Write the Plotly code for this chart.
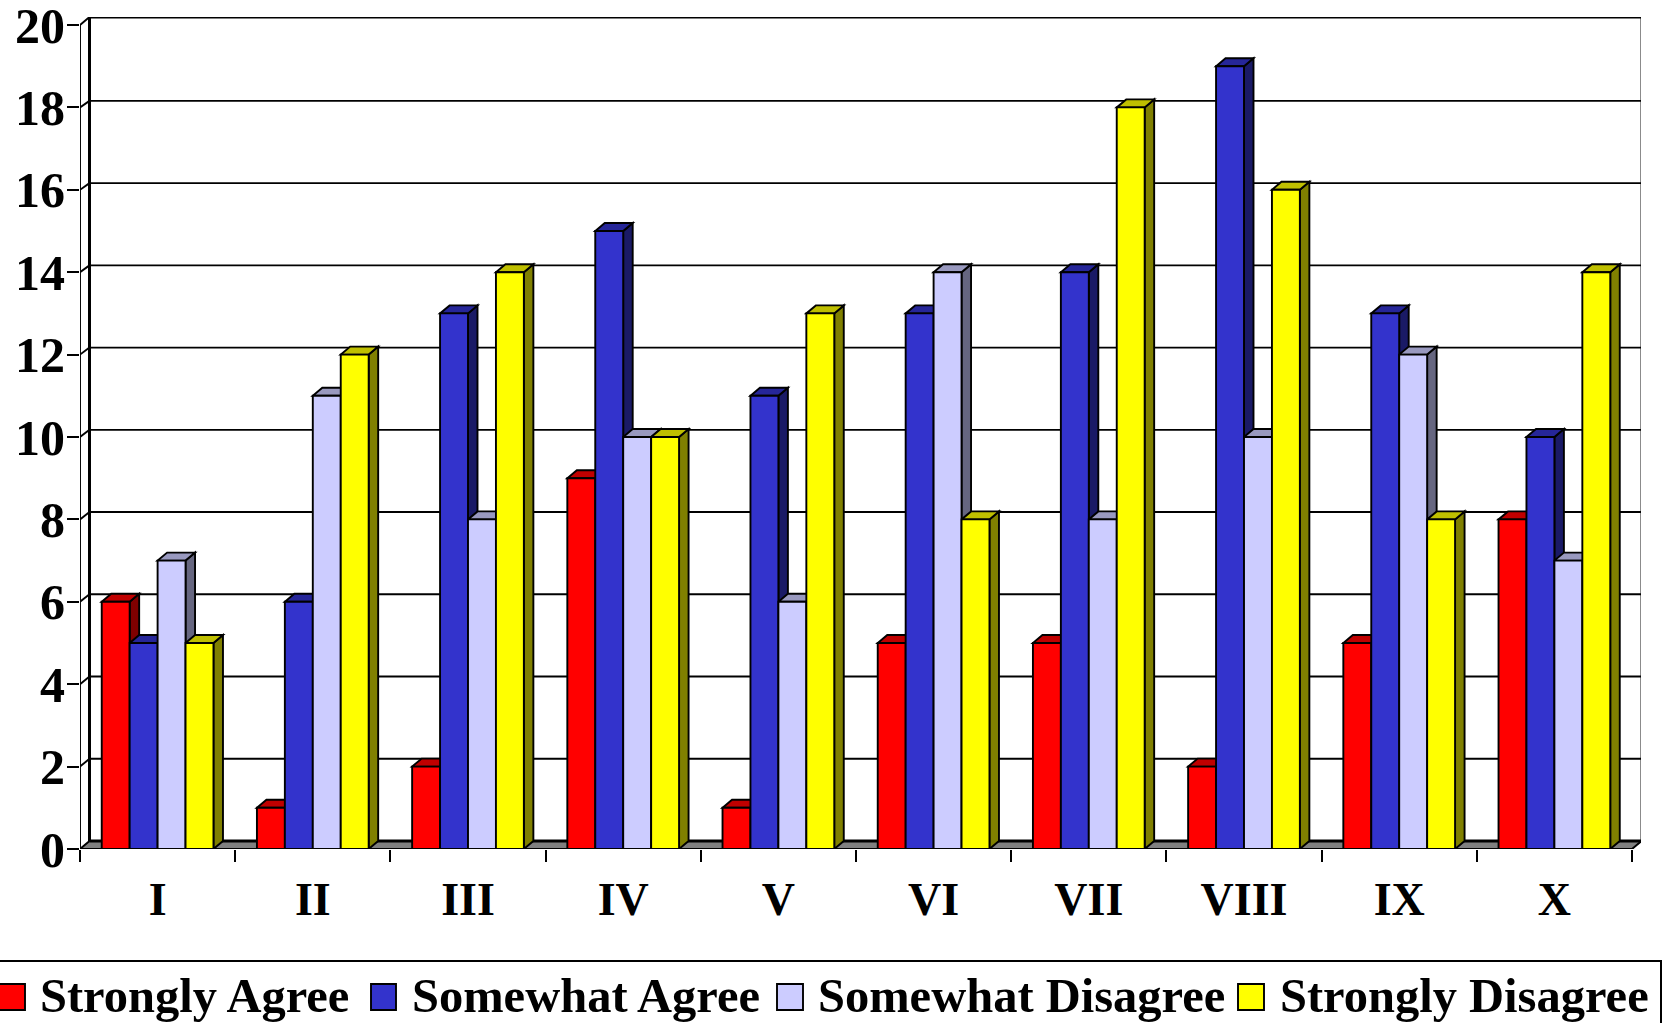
import plotly.graph_objects as go

categories = ["I", "II", "III", "IV", "V", "VI", "VII", "VIII", "IX", "X"]
strongly_agree = [6, 1, 2, 9, 1, 5, 5, 2, 5, 8]
somewhat_agree = [5, 6, 13, 15, 11, 13, 14, 19, 13, 10]
somewhat_disagree = [7, 11, 8, 10, 6, 14, 8, 10, 12, 7]
strongly_disagree = [5, 12, 14, 10, 13, 8, 18, 16, 8, 14]

series = [
    ("Strongly Agree", strongly_agree, "#FF0000", "#C00000", "#800000"),
    ("Somewhat Agree", somewhat_agree, "#3333CC", "#262699", "#1A1A66"),
    ("Somewhat Disagree", somewhat_disagree, "#CCCCFF", "#9999BF", "#666680"),
    ("Strongly Disagree", strongly_disagree, "#FFFF00", "#BFBF00", "#808000"),
]
legend_swatch_px = [(-2, 25), (371, 396), (777, 803), (1238, 1264)]
legend_text_px = [38, 410, 816, 1278]

W, H = 1662, 1023
LEFT, BASE = 80, 849
RIGHT, TOP = 1641, 17
PX_X, PX_Y = 155.2, 41.2
DX, DY = 9.5 / PX_X, 8 / PX_Y
BW, GAP = 0.18, 0.28
XMAX, YMAX = (RIGHT - LEFT) / PX_X, (BASE - TOP) / PX_Y
N = len(categories)
YTICKS = list(range(0, 21, 2))
FONT = "Liberation Serif"

def px(x):
    return (x - LEFT) / (RIGHT - LEFT)

def py(y):
    return (BASE - y) / (BASE - TOP)

def poly(pts):
    return "M" + "L".join(f"{x},{y}" for x, y in pts) + "Z"

def wall_y(t):
    # the back wall is drawn very slightly compressed towards its top
    return t + DY if t == 20 else t + DY * (1 - 0.0104 * t)

shapes = []
LINE = dict(color="black", width=1.9)

# floor
shapes.append(dict(type="path", layer="below", xref="x", yref="y", fillcolor="#808080",
                   line=dict(color="black", width=1),
                   path=poly([(0, 0), (N, 0), (N + DX, DY), (DX, DY)])))
shapes.append(dict(type="line", layer="below", xref="x", yref="y", x0=DX, x1=N + DX, y0=DY, y1=DY,
                   line=dict(color="black", width=3)))
# back wall grid
for t in YTICKS[1:]:
    w = 3 if t == 20 else 1.9
    shapes.append(dict(type="line", layer="below", xref="x", yref="y", x0=DX, x1=N + DX,
                       y0=wall_y(t), y1=wall_y(t), line=dict(color="black", width=w)))
for t in YTICKS:
    shapes.append(dict(type="line", layer="below", xref="x", yref="y", x0=0, x1=DX,
                       y0=t, y1=wall_y(t), line=LINE))
shapes.append(dict(type="line", layer="below", xref="x", yref="y", x0=DX, x1=DX, y0=DY, y1=20 + DY,
                   line=dict(color="black", width=3)))
shapes.append(dict(type="line", layer="below", xref="x", yref="y", x0=N + DX, x1=N + DX, y0=DY, y1=20 + DY,
                   line=LINE))
shapes.append(dict(type="line", layer="below", xref="x", yref="y", x0=N, x1=N + DX, y0=0, y1=DY, line=LINE))

# bar depth faces, painted left to right behind the front faces
for c in range(N):
    for s, (name, vals, front, top, side) in enumerate(series):
        v = vals[c]
        x0 = c + GAP / 2 + s * BW
        x1 = x0 + BW
        shapes.append(dict(type="path", layer="below", xref="x", yref="y", fillcolor=side, line=LINE,
                           path=poly([(x1, 0), (x1 + DX, DY), (x1 + DX, v + DY), (x1, v)])))
        shapes.append(dict(type="path", layer="below", xref="x", yref="y", fillcolor=top, line=LINE,
                           path=poly([(x0, v), (x1, v), (x1 + DX, v + DY), (x0 + DX, v + DY)])))

# legend panel (it is wider than a native Plotly legend may become)
shapes.append(dict(type="rect", xref="paper", yref="paper", x0=px(-10), x1=px(1661), y0=py(1035), y1=py(961),
                   fillcolor="white", line=dict(color="black", width=2)))
annotations = []
for (name, vals, front, top, side), (a, b), tx in zip(series, legend_swatch_px, legend_text_px):
    shapes.append(dict(type="rect", xref="paper", yref="paper", x0=px(a), x1=px(b), y0=py(1010), y1=py(984),
                       fillcolor=front, line=dict(color="black", width=1.9)))
    annotations.append(dict(xref="paper", yref="paper", x=px(tx), y=py(995), xanchor="left", yanchor="middle",
                            text=f"<b>{name}</b>", showarrow=False,
                            font=dict(family=FONT, size=48.5, color="black")))

fig = go.Figure()
centers = [i + 0.5 for i in range(N)]
for name, vals, front, top, side in series:
    fig.add_trace(go.Bar(x=centers, y=vals, name=name,
                         marker=dict(color=front, line=dict(color="black", width=1.9))))

# front axis lines
fig.add_trace(go.Scatter(x=[0, 0, N], y=[20, 0, 0], mode="lines", showlegend=False, hoverinfo="skip",
                         cliponaxis=False, line=dict(color="black", width=1.9)))

fig.update_layout(
    width=W, height=H, autosize=False,
    margin=dict(l=LEFT, r=W - RIGHT, t=TOP, b=H - BASE, pad=0, autoexpand=False),
    paper_bgcolor="white", plot_bgcolor="white",
    barmode="group", bargap=GAP, bargroupgap=0,
    shapes=shapes, annotations=annotations,
    font=dict(family=FONT, color="black"),
    showlegend=False,
    xaxis=dict(range=[0, XMAX], tickvals=centers, ticktext=categories, ticks="",
               showgrid=False, zeroline=False, showline=False, ticklabelstandoff=19, automargin=False,
               tickfont=dict(family=FONT, size=46, weight="bold", color="black"),
               minor=dict(tickvals=list(range(N + 1)), ticks="outside", ticklen=12, tickwidth=1.9,
                          tickcolor="black", showgrid=False)),
    yaxis=dict(range=[0, YMAX], tickvals=YTICKS, ticks="outside", ticklen=12, tickwidth=1.9,
               tickcolor="black", showgrid=False, zeroline=False, showline=False, automargin=False,
               ticklabeloverflow="allow", ticklabelstandoff=-8,
               tickfont=dict(family=FONT, size=50, weight="bold", color="black")),
)

fig.write_html("out.html", config={"displayModeBar": False},
               post_script="document.body.style.margin='0';document.body.style.overflow='hidden';")
